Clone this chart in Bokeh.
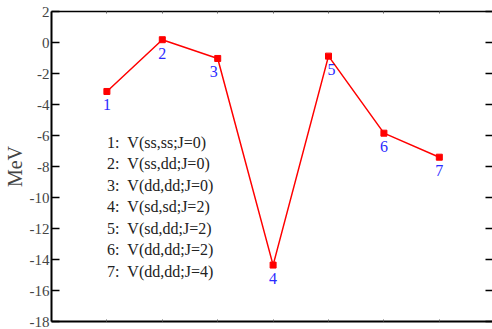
from bokeh.plotting import figure
from bokeh.models import Range1d, LinearAxis, FixedTicker, ColumnDataSource
from bokeh.core.properties import value
from bokeh.embed import file_html
from bokeh.resources import INLINE

# Matrix elements (MeV) for each two-body interaction
index = [1, 2, 3, 4, 5, 6, 7]
energy = [-3.16, 0.18, -1.03, -14.36, -0.88, -5.85, -7.40]
point_labels = ["1", "2", "3", "4", "5", "6", "7"]
legend_lines = [
    "1:\u00a0\u00a0V(ss,ss;J=0)",
    "2:\u00a0\u00a0V(ss,dd;J=0)",
    "3:\u00a0\u00a0V(dd,dd;J=0)",
    "4:\u00a0\u00a0V(sd,sd;J=2)",
    "5:\u00a0\u00a0V(sd,dd;J=2)",
    "6:\u00a0\u00a0V(dd,dd;J=2)",
    "7:\u00a0\u00a0V(dd,dd;J=4)",
]
y_ticks = [2, 0, -2, -4, -6, -8, -10, -12, -14, -16, -18]

SERIF = "Liberation Serif"

p = figure(width=492, height=329, output_backend="svg", toolbar_location=None,
           x_range=Range1d(0, 7.96), y_range=Range1d(-18, 2),
           x_axis_location=None, y_axis_location=None,
           min_border_left=0, min_border_right=0, min_border_top=11, min_border_bottom=8)
p.outline_line_color = None
p.grid.visible = False
p.background_fill_color = "white"
p.border_fill_color = "white"

# left axis with labels (plain hyphen minus signs)
left = LinearAxis(ticker=FixedTicker(ticks=y_ticks), axis_label="MeV")
left.major_label_overrides = {t: str(t) for t in y_ticks}
left.major_tick_in = 8
left.major_tick_out = 0
left.minor_tick_line_color = None
left.axis_line_width = 2
left.major_tick_line_width = 1.5
left.major_label_text_font = SERIF
left.major_label_text_font_size = "15px"
left.major_label_standoff = 2
left.axis_label_text_font = SERIF
left.axis_label_text_font_size = "20px"
left.axis_label_text_font_style = "normal"
left.axis_label_standoff = 1
p.add_layout(left, "left")

def bare_axis(ticks, tick_in, line_color="black", line_width=1.5):
    ax = LinearAxis(ticker=FixedTicker(ticks=ticks))
    ax.major_label_overrides = {t: "" for t in ticks}
    ax.major_tick_in = tick_in
    ax.major_tick_out = 0
    ax.minor_tick_line_color = None
    ax.major_label_standoff = 0
    ax.axis_line_color = line_color
    ax.axis_line_width = line_width
    ax.major_tick_line_width = 1
    ax.major_tick_line_color = "#666666"
    return ax

p.add_layout(bare_axis(index, 2, line_width=2), "below")
p.add_layout(bare_axis(index, 2, line_width=1.5), "above")
right = bare_axis(y_ticks, 7, line_color=None)
right.major_tick_line_color = "black"
right.major_tick_line_width = 1.5
p.add_layout(right, "right")

# small horizontal nudges (px) keep point numbers clear of the line
label_nudge = [0, 0, -4, 0, 3, 0, 0]

src = ColumnDataSource(dict(x=index, y=energy, t=point_labels, dx=label_nudge))
p.line("x", "y", source=src, line_color="#ff0000", line_width=1.5)
p.scatter("x", "y", source=src, marker="square", size=6, color="#ff0000")
p.text("x", "y", text="t", source=src, text_align="center", text_baseline="top",
       x_offset="dx", y_offset=8, text_font_size="16px", text_color="#2b2bff",
       text_font=value(SERIF))

# key to the numbered interactions, stacked under point 1
key_top, key_step = -6.43, 1.39
key = ColumnDataSource(dict(
    x=[index[0]] * len(legend_lines),
    y=[key_top - key_step * i for i in range(len(legend_lines))],
    t=legend_lines))
p.text("x", "y", text="t", source=key, text_align="left", text_baseline="middle",
       text_font_size="16px", text_color="#222222", text_font=value(SERIF))

open("out.html", "w").write(file_html(p, INLINE))
